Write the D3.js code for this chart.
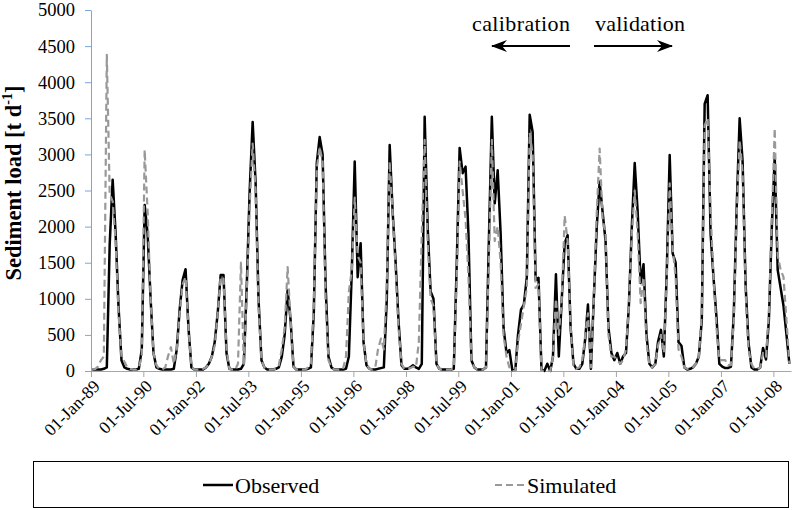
<!DOCTYPE html>
<html>
<head>
<meta charset="utf-8">
<script src="https://d3js.org/d3.v7.min.js"></script>
<style>
  body { margin: 0; background: #fff; }
  svg text { font-family: "Liberation Serif", "Times New Roman", serif; fill: #000; }
</style>
</head>
<body>
<div id="chart"></div>
<script>

// monthly sediment load [t/d], Jan 1989 .. Dec 2008 (one row per year)
var startYear = 1989;

var observed = [
  20, 20, 20, 20, 30, 50, 1750, 2650, 1900, 900, 150, 50,
  30, 20, 20, 20, 30, 300, 2300, 1900, 1000, 250, 50, 30,
  20, 20, 20, 20, 30, 300, 850, 1260, 1410, 600, 50, 20,
  20, 20, 20, 50, 100, 200, 400, 800, 1330, 1330, 250, 30,
  20, 20, 20, 30, 100, 1200, 2500, 3450, 2600, 1000, 150, 50,
  20, 20, 20, 30, 50, 200, 500, 1120, 700, 60, 20, 20,
  20, 20, 30, 50, 800, 2880, 3240, 3000, 1200, 200, 50, 20,
  20, 20, 20, 30, 200, 1400, 2900, 1300, 1770, 400, 80, 30,
  20, 20, 30, 40, 50, 1000, 3130, 2200, 1500, 700, 80, 30,
  30, 50, 80, 50, 30, 100, 3520, 2000, 1100, 1000, 100, 30,
  20, 20, 20, 20, 30, 1500, 3090, 2740, 2830, 1900, 150, 50,
  20, 20, 20, 50, 1800, 3520, 2320, 2780, 1900, 600, 250, 290,
  10, 10, 500, 850, 920, 1300, 3550, 3310, 1260, 1290, 20, 0,
  100, 0, 200, 1340, 200, 1000, 1770, 1880, 600, 100, 30, 30,
  100, 450, 920, 30, 1000, 2000, 2620, 2200, 1800, 600, 250, 150,
  250, 100, 200, 250, 900, 2000, 2880, 2200, 1220, 1480, 500, 100,
  50, 100, 400, 570, 200, 1400, 2990, 1630, 1500, 400, 350, 50,
  20, 30, 50, 100, 200, 700, 3700, 3820, 1900, 1300, 750, 100,
  60, 40, 40, 60, 800, 2300, 3500, 2900, 1200, 400, 50, 20,
  20, 50, 320, 160, 700, 2000, 2960, 1400, 1150, 900, 500, 100
];

var simulated = [
  20, 30, 60, 150, 200, 4380, 2450, 2350, 1800, 800, 200, 130,
  50, 30, 20, 20, 50, 200, 3060, 2200, 1000, 250, 80, 30,
  20, 50, 200, 330, 100, 300, 800, 1200, 1300, 600, 60, 20,
  20, 20, 30, 50, 100, 200, 350, 800, 1300, 1280, 300, 30,
  20, 20, 100, 1500, 80, 1100, 2300, 3150, 2500, 900, 150, 50,
  20, 20, 20, 30, 80, 300, 600, 1440, 700, 60, 20, 20,
  20, 20, 50, 100, 900, 2800, 3100, 2900, 1000, 150, 50, 20,
  20, 20, 30, 200, 1100, 1400, 2400, 1600, 1500, 400, 100, 30,
  20, 50, 300, 450, 300, 1200, 2900, 2200, 1400, 600, 100, 30,
  30, 40, 60, 50, 400, 1900, 3200, 1800, 1000, 900, 100, 30,
  20, 20, 20, 20, 50, 1300, 2900, 2500, 2100, 1300, 150, 50,
  20, 20, 20, 50, 1500, 3200, 1800, 2000, 1500, 500, 200, 50,
  0, 0, 400, 650, 900, 1150, 3300, 3000, 1150, 1200, 0, 0,
  0, 0, 200, 1000, 500, 1000, 2150, 1800, 600, 50, 30, 50,
  150, 500, 800, 50, 1000, 2200, 3080, 2100, 1900, 500, 200, 200,
  150, 100, 150, 300, 900, 1900, 2500, 1900, 940, 1300, 400, 80,
  50, 100, 350, 500, 250, 1300, 2600, 1700, 1300, 300, 200, 50,
  30, 30, 50, 100, 200, 800, 3400, 3500, 2200, 1300, 600, 150,
  150, 150, 80, 80, 700, 2200, 3200, 2750, 1100, 300, 100, 30,
  30, 50, 250, 200, 800, 2100, 3360, 1600, 1400, 1300, 700, 100
];

var xTickLabels = ["01-Jan-89", "01-Jul-90", "01-Jan-92", "01-Jul-93", "01-Jan-95",
  "01-Jul-96", "01-Jan-98", "01-Jul-99", "01-Jan-01", "01-Jul-02", "01-Jan-04",
  "01-Jul-05", "01-Jan-07", "01-Jul-08"];

var yTicks = [0, 500, 1000, 1500, 2000, 2500, 3000, 3500, 4000, 4500, 5000];

var seriesNames = ["Observed", "Simulated"];

// ------------------------------------------------------------------

var width = 796, height = 510;
var serif = "'Liberation Serif', 'Times New Roman', serif";

var svg = d3.select("#chart")
  .append("svg")
  .attr("width", width)
  .attr("height", height);

var parseTick = d3.timeParse("%d-%b-%y");
var tickDates = xTickLabels.map(parseTick);

// data points sit in the middle of each month
var rows = observed.map(function (v, i) {
  return { date: new Date(startYear, i, 15), obs: v, sim: simulated[i] };
});

var x = d3.scaleTime()
  .domain([new Date(startYear, 0, 1), new Date(startYear + 20, 0, 1)])
  .range([91, 791]);

var y = d3.scaleLinear()
  .domain([0, 5000])
  .range([371, 10]);

// x axis
var xAxis = svg.append("g")
  .attr("transform", "translate(0,371)")
  .call(d3.axisBottom(x)
    .tickValues(tickDates)
    .tickFormat(d3.timeFormat("%d-%b-%y"))
    .tickSize(6)
    .tickSizeOuter(0))
  .attr("font-family", serif);
xAxis.select(".domain").attr("stroke", "#a6a6a6");
xAxis.selectAll(".tick line").attr("stroke", "#a6a6a6");
xAxis.selectAll(".tick text")
  .attr("font-size", 17.5)
  .attr("text-anchor", "end")
  .attr("y", 0)
  .attr("dy", "0.35em")
  .attr("transform", "translate(5,12) rotate(-45)");

// y axis
var yAxis = svg.append("g")
  .attr("transform", "translate(91,0)")
  .call(d3.axisLeft(y)
    .tickValues(yTicks)
    .tickFormat(d3.format("d"))
    .tickSize(6)
    .tickSizeOuter(0)
    .tickPadding(10))
  .attr("font-family", serif);
yAxis.select(".domain").attr("stroke", "#7aa6da");
yAxis.selectAll(".tick line").attr("stroke", "#7aa6da");
yAxis.selectAll(".tick text").attr("font-size", 18.5);

// y label
svg.append("text")
  .attr("transform", "translate(21,183) rotate(-90)")
  .attr("text-anchor", "middle")
  .attr("font-size", 22.5)
  .attr("font-weight", "bold")
  .call(function (t) {
    t.append("tspan").text("Sediment load [t d");
    t.append("tspan").attr("font-size", 14).attr("dy", -9).text("-1");
    t.append("tspan").attr("dy", 9).text("]");
  });

// lines
var lineObs = d3.line()
  .x(function (d) { return x(d.date); })
  .y(function (d) { return y(d.obs); });
var lineSim = d3.line()
  .x(function (d) { return x(d.date); })
  .y(function (d) { return y(d.sim); });

svg.append("path")
  .datum(rows)
  .attr("d", lineObs)
  .attr("fill", "none")
  .attr("stroke", "#000")
  .attr("stroke-width", 2.5)
  .attr("stroke-linejoin", "round");

svg.append("path")
  .datum(rows)
  .attr("d", lineSim)
  .attr("fill", "none")
  .attr("stroke", "#999")
  .attr("stroke-width", 2.2)
  .attr("stroke-dasharray", "7,4")
  .attr("stroke-linejoin", "round");

// calibration / validation arrows
var defs = svg.append("defs");
defs.append("marker")
  .attr("id", "head")
  .attr("viewBox", "0 0 16 12")
  .attr("refX", 15)
  .attr("refY", 6)
  .attr("markerWidth", 16)
  .attr("markerHeight", 12)
  .attr("markerUnits", "userSpaceOnUse")
  .attr("orient", "auto")
  .append("path")
  .attr("d", "M0,0 L16,6 L0,12 L5,6 Z")
  .attr("fill", "#000");

svg.append("text").attr("x", 472).attr("y", 31).attr("font-size", 22)
  .attr("textLength", 98).text("calibration");
svg.append("text").attr("x", 595).attr("y", 31).attr("font-size", 22)
  .attr("textLength", 90).text("validation");

svg.append("line")
  .attr("x1", 570).attr("y1", 46).attr("x2", 492).attr("y2", 46)
  .attr("stroke", "#000").attr("stroke-width", 2)
  .attr("marker-end", "url(#head)");
svg.append("line")
  .attr("x1", 594).attr("y1", 46).attr("x2", 672).attr("y2", 46)
  .attr("stroke", "#000").attr("stroke-width", 2)
  .attr("marker-end", "url(#head)");

// legend
var legend = svg.append("g");
legend.append("rect")
  .attr("x", 33.5).attr("y", 461.5)
  .attr("width", 755).attr("height", 46)
  .attr("fill", "none")
  .attr("stroke", "#000")
  .attr("stroke-width", 1);

var legendX = [203, 495];
seriesNames.forEach(function (name, i) {
  var g = legend.append("g").attr("transform", "translate(" + legendX[i] + ",485)");
  g.append("line")
    .attr("x1", 0).attr("x2", 30)
    .attr("stroke", i === 0 ? "#000" : "#999")
    .attr("stroke-width", i === 0 ? 2.5 : 2.2)
    .attr("stroke-dasharray", i === 0 ? null : "7,4");
  g.append("text")
    .attr("x", 32)
    .attr("dy", "0.35em")
    .attr("font-size", 22)
    .text(name);
});

</script>
</body>
</html>
